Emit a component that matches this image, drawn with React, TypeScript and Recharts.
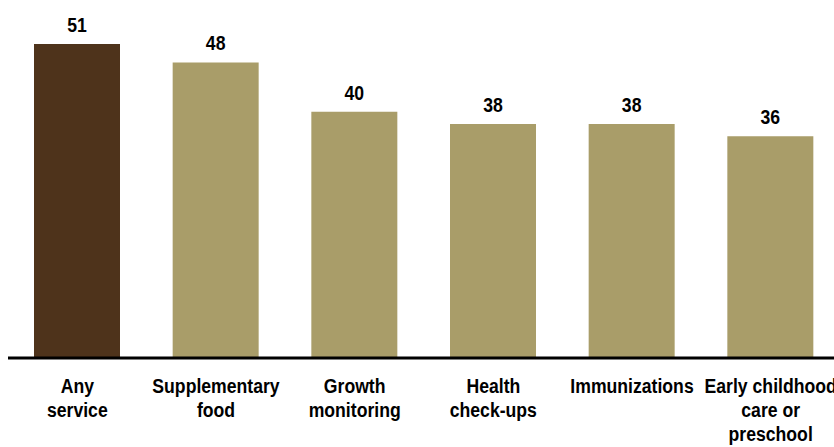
import { BarChart, Bar, XAxis, YAxis, Cell, LabelList } from 'recharts';

const categories = [
  'Any\nservice',
  'Supplementary\nfood',
  'Growth\nmonitoring',
  'Health\ncheck-ups',
  'Immunizations',
  'Early childhood\ncare or\npreschool',
];
const values = [51, 48, 40, 38, 38, 36];
const highlight = [true, false, false, false, false, false];

const data = categories.map((name, i) => ({ name, value: values[i], highlight: highlight[i] }));

// no Arial Narrow here, so squeeze Liberation Sans horizontally
const FONT = 'Arial, "Liberation Sans", sans-serif';
const SQUEEZE = 0.84;

function WrappedTick(props: any) {
  const { x, y, payload } = props;
  const lines = String(payload.value).split('\n');
  return (
    <g transform={`translate(${x},${y + 35}) scale(${SQUEEZE},1)`}>
      <text x={0} y={0} textAnchor="middle" fontFamily={FONT} fontSize={21} fontWeight="bold" fill="#000">
        {lines.map((line, i) => (
          <tspan key={i} x={0} dy={i === 0 ? 0 : 24}>
            {line}
          </tspan>
        ))}
      </text>
    </g>
  );
}

function ValueLabel(props: any) {
  const { x, y, width, value } = props;
  return (
    <g transform={`translate(${x + width / 2},${y - 12}) scale(${SQUEEZE},1)`}>
      <text x={0} y={0} textAnchor="middle" fontFamily={FONT} fontSize={21} fontWeight="bold" fill="#000">
        {value}
      </text>
    </g>
  );
}

export default function App() {
  return (
    <div style={{ position: 'fixed', left: 0, top: 0, width: 834, height: 447, overflow: 'hidden', background: '#fff' }}>
      <div style={{ position: 'absolute', left: 8, top: 8 }}>
        <BarChart width={832} height={439} data={data} margin={{ top: 36, right: 0, bottom: 0, left: 0 }}>
          <YAxis hide domain={[0, 51]} />
          <XAxis
            dataKey="name"
            interval={0}
            height={89}
            tickSize={0}
            tickMargin={0}
            tickLine={false}
            axisLine={{ stroke: '#000', strokeWidth: 3 }}
            tick={<WrappedTick />}
          />
          <Bar dataKey="value" barSize={86} isAnimationActive={false}>
            {data.map((d) => (
              <Cell key={d.name} fill={d.highlight ? '#4E331B' : '#A99D69'} />
            ))}
            <LabelList dataKey="value" content={<ValueLabel />} />
          </Bar>
        </BarChart>
      </div>
    </div>
  );
}
